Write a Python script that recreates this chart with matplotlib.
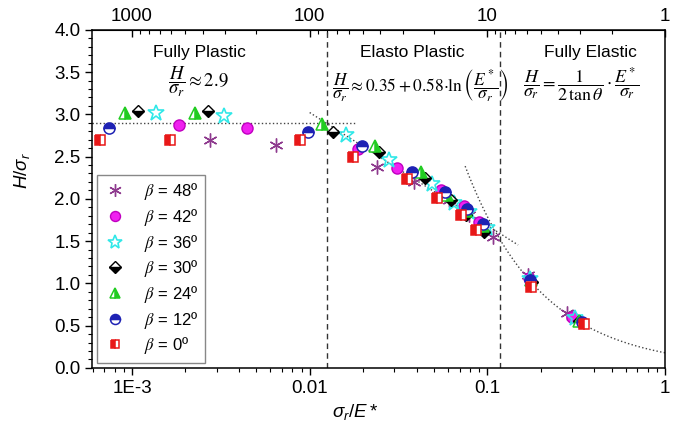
import numpy as np
import matplotlib
matplotlib.use("Agg")
import matplotlib.pyplot as plt
from matplotlib.ticker import FixedLocator, FuncFormatter, LogLocator, NullFormatter, MultipleLocator
from matplotlib.font_manager import FontProperties

plt.rcParams['font.family'] = ['Liberation Sans', 'DejaVu Sans']
plt.rcParams['mathtext.fontset'] = 'custom'
plt.rcParams['mathtext.rm'] = 'Liberation Sans'
plt.rcParams['mathtext.it'] = 'Liberation Sans:italic'

# sigma_r/E* and H/sigma_r for each indenter angle
x48 = [2.74e-3, 6.44e-3, 0.0238, 0.0389, 0.0612, 0.0793, 0.107, 0.170, 0.281]
y48 = [2.70, 2.64, 2.38, 2.20, 1.99, 1.81, 1.55, 1.10, 0.65]

x42 = [1.84e-3, 4.43e-3, 0.0188, 0.0312, 0.0552, 0.0743, 0.0901, 0.172, 0.300]
y42 = [2.87, 2.84, 2.59, 2.37, 2.11, 1.91, 1.73, 1.06, 0.60]

x36 = [1.36e-3, 3.29e-3, 0.0160, 0.0281, 0.0490, 0.0653, 0.0793, 0.100, 0.174, 0.310]
y36 = [3.01, 2.98, 2.76, 2.46, 2.17, 1.95, 1.85, 1.66, 1.05, 0.59]

x30 = [1.08e-3, 2.67e-3, 0.0135, 0.0247, 0.0443, 0.0628, 0.0762, 0.0962, 0.178, 0.330]
y30 = [3.04, 3.04, 2.79, 2.56, 2.25, 1.99, 1.81, 1.61, 1.02, 0.55]

x24 = [9.1e-4, 2.26e-3, 0.0118, 0.0232, 0.0426, 0.0596, 0.0760, 0.0940, 0.176, 0.330]
y24 = [3.02, 3.02, 2.88, 2.62, 2.32, 2.05, 1.86, 1.68, 1.04, 0.56]

x12 = [7.43e-4, 9.75e-3, 0.0196, 0.0379, 0.0580, 0.0770, 0.0950, 0.174, 0.340]
y12 = [2.84, 2.79, 2.62, 2.32, 2.08, 1.88, 1.70, 1.04, 0.54]

x0 = [6.6e-4, 1.63e-3, 8.8e-3, 0.01746, 0.0351, 0.0524, 0.0715, 0.0867, 0.176, 0.350]
y0 = [2.70, 2.70, 2.70, 2.50, 2.24, 2.01, 1.81, 1.63, 0.96, 0.52]

# regime limits and model constants
plastic_limit = 0.0125
elastic_limit = 0.118
plateau = 2.9
theta = 70.3

fig = plt.figure(figsize=(6.87, 4.38), dpi=100)
ax = fig.add_axes([0.134, 0.160, 0.834, 0.772])
ax.set_xscale('log')
ax.set_xlim(5.96e-4, 1)
ax.set_ylim(0, 4)

# model curves
xp = np.array([5.96e-4, 0.0179])
ax.plot(xp, [plateau, plateau], ':', color='#444444', lw=1)
xe = np.logspace(-2, np.log10(0.149), 50)
ax.plot(xe, 0.35 + 0.58 * np.log(1 / xe), ':', color='#444444', lw=1)
xl = np.logspace(np.log10(0.075), 0, 50)
ax.plot(xl, 1 / (2 * np.tan(np.radians(theta))) / xl, ':', color='#444444', lw=1)

for xv in (plastic_limit, elastic_limit):
    ax.axvline(xv, color='#333333', lw=1, ls=(0, (4, 3)))

ax.plot(x48, y48, ls='none', marker=(6, 2, 0), ms=10, mew=1.0, color='#8E3A8E',
        label=r'$\beta$ = 48º')
ax.plot(x42, y42, ls='none', marker='o', ms=8, mfc='#F020F0', mec='#C000C0',
        label=r'$\beta$ = 42º')
ax.plot(x36, y36, ls='none', marker='*', ms=12, mfc='none', mec='#30E8E8', mew=1.2,
        label=r'$\beta$ = 36º')
ax.plot(x30, y30, ls='none', marker='D', ms=6.5, fillstyle='bottom', mfc='black',
        markerfacecoloralt='white', mec='black', mew=1,
        label=r'$\beta$ = 30º')
ax.plot(x24, y24, ls='none', marker='^', ms=8, fillstyle='right', mfc='#22CC22',
        markerfacecoloralt='white', mec='#22CC22', mew=1.1,
        label=r'$\beta$ = 24º')
ax.plot(x12, y12, ls='none', marker='o', ms=8, fillstyle='top', mfc='#1E22B4',
        markerfacecoloralt='white', mec='#1E22B4', mew=1.1,
        label=r'$\beta$ = 12º')
ax.plot(x0, y0, ls='none', marker='s', ms=7, fillstyle='left', mfc='#E81818',
        markerfacecoloralt='white', mec='#E81818', mew=1.1,
        label=r'$\beta$ = 0º')

leg_font = FontProperties(family='Liberation Sans', size=12, math_fontfamily='stix')
leg = ax.legend(loc='lower left', bbox_to_anchor=(0.0, 0.0), prop=leg_font,
                frameon=True, fancybox=False, edgecolor='#888888', framealpha=1,
                labelspacing=0.28, handletextpad=1.0, borderpad=0.4, handlelength=1.4,
                borderaxespad=0.3, markerscale=0.9)
leg.get_frame().set_linewidth(1)

# regime titles and formulas
ax.text(0.188, 0.955, 'Fully Plastic', transform=ax.transAxes, ha='center', va='top', fontsize=12.5)
ax.text(0.559, 0.955, 'Elasto Plastic', transform=ax.transAxes, ha='center', va='top', fontsize=12.5)
ax.text(0.869, 0.955, 'Fully Elastic', transform=ax.transAxes, ha='center', va='top', fontsize=12.5)

ax.text(0.132, 0.847, r'$\dfrac{H}{\sigma_r}\approx 2.9$', transform=ax.transAxes,
        ha='left', va='center', fontsize=13.5, math_fontfamily='stix')
ax.text(0.418, 0.838, r'$\dfrac{H}{\sigma_r}\approx 0.35+0.58{\cdot}\ln\left(\dfrac{E^*}{\sigma_r}\right)$',
        transform=ax.transAxes, ha='left', va='center', fontsize=12.5, math_fontfamily='stix')
ax.text(0.752, 0.838, r'$\dfrac{H}{\sigma_r}=\dfrac{1}{2\,\tan\theta}\cdot\dfrac{E^*}{\sigma_r}$',
        transform=ax.transAxes, ha='left', va='center', fontsize=13, math_fontfamily='stix')

# axes and ticks
ax.xaxis.set_major_locator(FixedLocator([1e-3, 1e-2, 1e-1, 1]))
ax.xaxis.set_major_formatter(FuncFormatter(lambda v, p: {1e-3: '1E-3', 1e-2: '0.01', 1e-1: '0.1', 1: '1'}.get(v, '')))
ax.xaxis.set_minor_locator(LogLocator(base=10, subs=np.arange(2, 10)))
ax.xaxis.set_minor_formatter(NullFormatter())
ax.yaxis.set_major_locator(MultipleLocator(0.5))
ax.yaxis.set_minor_locator(MultipleLocator(0.1))
ax.yaxis.set_major_formatter(FuncFormatter(lambda v, p: f'{v:.1f}'))
ax.tick_params(axis='both', which='major', direction='out', length=5, width=1, labelsize=13.5)
ax.tick_params(axis='both', which='minor', direction='out', length=3, width=0.8)
ax.tick_params(top=False, right=False, which='both')

top = ax.secondary_xaxis('top', functions=(lambda v: 1 / v, lambda v: 1 / v))
top.xaxis.set_major_locator(FixedLocator([1000, 100, 10, 1]))
top.xaxis.set_major_formatter(FuncFormatter(lambda v, p: f'{v:g}'))
top.xaxis.set_minor_locator(LogLocator(base=10, subs=np.arange(2, 10)))
top.xaxis.set_minor_formatter(NullFormatter())
top.tick_params(which='major', direction='in', length=5, width=1, labelsize=13.5)
top.tick_params(which='minor', direction='in', length=3, width=0.8)

for s in ax.spines.values():
    s.set_linewidth(1.1)

ax.set_xlabel(r'$\sigma_r/E*$', fontsize=13.5)
ax.xaxis.set_label_coords(0.459, -0.10)
ax.set_ylabel(r'$H/\sigma_r$', fontsize=13.5)
ax.yaxis.set_label_coords(-0.105, 0.585)

fig.savefig('out.png', dpi=100)
